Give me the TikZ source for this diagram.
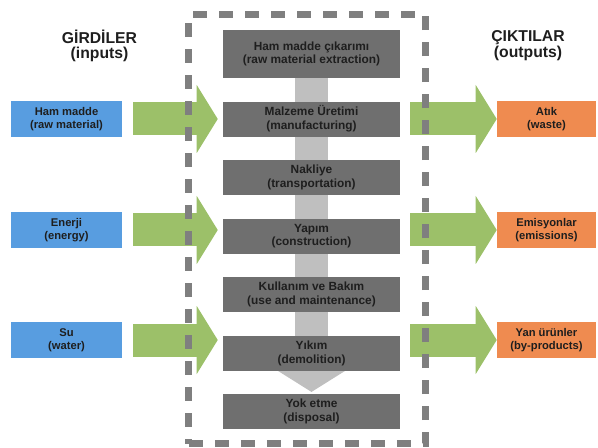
\documentclass[tikz,border=0pt]{standalone}
\usepackage{fontspec}
\setmainfont{Liberation Sans}
\usetikzlibrary{arrows.meta,backgrounds,positioning}
\definecolor{inblue}{HTML}{589DE0}
\definecolor{outorange}{HTML}{EF8B50}
\definecolor{flowgreen}{HTML}{9CC069}
\definecolor{stagegray}{HTML}{6F6F6F}
\definecolor{lifegray}{HTML}{BFBFBF}
\definecolor{framegray}{HTML}{7F7F7F}
\definecolor{ink}{HTML}{1E1E1E}
\tikzset{
  stage/.style={
    draw=none,
    fill=stagegray,
    minimum width=132.75pt,
    minimum height=26.25pt,
    inner sep=0pt,
    align=center,
    text=ink,
    font=\bfseries\fontsize{8.9}{10.3}\selectfont
  },
  input/.style={stage, fill=inblue, minimum width=83.25pt, minimum height=27pt,
    font=\bfseries\fontsize{8.4}{9.8}\selectfont},
  output/.style={input, fill=outorange, minimum width=74.25pt},
  heading/.style={align=center, text=ink, font=\bfseries\fontsize{11.8}{11.8}\selectfont},
  inflow/.style={-{Triangle[length=15.75pt, width=51pt, line width=0pt]},
    line width=24.75pt, draw=flowgreen, shorten <=8.25pt, shorten >=3.75pt},
  outflow/.style={inflow, shorten <=7.5pt, shorten >=0pt},
  lifeflow/.style={-{Triangle[length=15.75pt, width=50.25pt, line width=0pt]},
    line width=24.75pt, draw=lifegray, shorten >=1.5pt},
  frame/.style={
    draw=framegray,
    line width=5.25pt,
    dash pattern=on 10.5pt off 9pt,
    minimum width=177.4pt,
    minimum height=321.4pt,
    inner sep=0pt
  }
}

\begin{document}
\begin{tikzpicture}[x=0.75pt, y=-0.75pt, node distance=17.25pt]
  \useasboundingbox (0,0) rectangle (598,448);

  \node[heading] (inhead) at (99.5,46) {GİRDİLER\\(inputs)};
  \node[heading] (outhead) at (528,46) {ÇIKTILAR\\(outputs)};

  \node[stage, minimum height=36pt] (extract) at (311.5,54)
    {Ham madde çıkarımı\\(raw material extraction)};
  \node[stage, below=of extract] (manufact) {Malzeme Üretimi\\(manufacturing)};
  \node[stage, below=of manufact] (transport) {Nakliye\\(transportation)};
  \node[stage, below=of transport] (construct) {Yapım\\(construction)};
  \node[stage, below=of construct] (usemaint) {Kullanım ve Bakım\\(use and maintenance)};
  \node[stage, below=of usemaint] (demolish) {Yıkım\\(demolition)};
  \node[stage, below=of demolish] (dispose) {Yok etme\\(disposal)};

  \begin{scope}[on background layer]
    \draw[lifeflow] (extract.south) -- (dispose.north);
  \end{scope}

  \node[input] (rawmat) at (66.5,119) {Ham madde\\(raw material)};
  \node[input] (energy) at (66.5,230) {Enerji\\(energy)};
  \node[input] (water) at (66.5,340) {Su\\(water)};

  \node[output] (waste) at (546.5,119) {Atık\\(waste)};
  \node[output] (emission) at (546.5,230) {Emisyonlar\\(emissions)};
  \node[output] (byprod) at (546.5,340) {Yan ürünler\\(by-products)};

  \draw[inflow] (rawmat.east) -- (rawmat.east -| manufact.west);
  \draw[inflow] (energy.east) -- (energy.east -| construct.west);
  \draw[inflow] (water.east) -- (water.east -| demolish.west);

  \draw[outflow] (waste.west -| manufact.east) -- (waste.west);
  \draw[outflow] (emission.west -| construct.east) -- (emission.west);
  \draw[outflow] (byprod.west -| demolish.east) -- (byprod.west);

  \node[frame] (lifecycle) at (307.25,229.25) {};
\end{tikzpicture}
\end{document}
